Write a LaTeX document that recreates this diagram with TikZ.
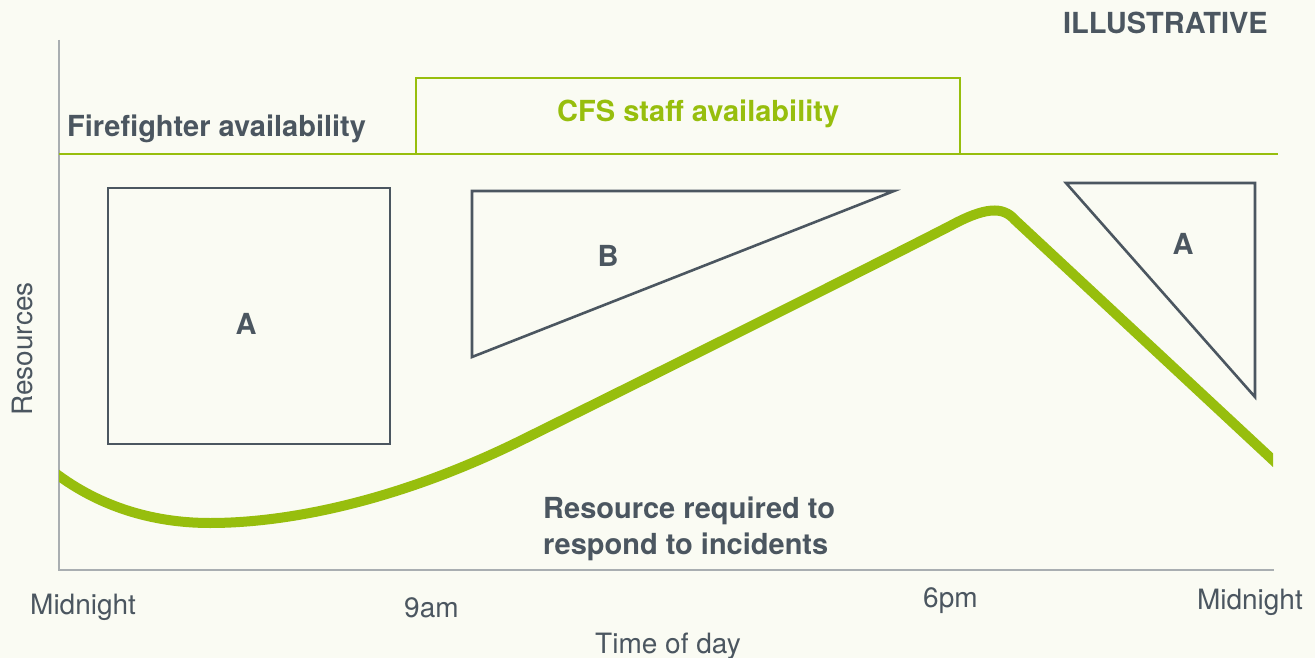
\documentclass[tikz,border=0pt]{standalone}
\usepackage{fontspec}
\setmainfont{TeX Gyre Heros}
\definecolor{bgcol}{HTML}{FAFBF3}
\definecolor{inkgrey}{HTML}{4B5660}
\definecolor{cfsgreen}{HTML}{97BE0D}
\definecolor{axisgrey}{HTML}{A9AEB1}
\begin{document}
\begin{tikzpicture}[x=1pt, y=-1pt,
  lbl/.style={inner sep=0pt, text=inkgrey, font=\fontsize{28}{36}\selectfont},
  blbl/.style={lbl, font=\fontsize{29}{36}\selectfont\bfseries},
  outline/.style={draw=inkgrey, line width=2.6pt, line join=miter}]
  \fill[bgcol] (0,0) rectangle (1315,658);
  \useasboundingbox (0,0) rectangle (1315,658);

  % axes
  \coordinate (top) at (59,40);
  \coordinate (origin) at (59,570);
  \coordinate (right) at (1274,570);
  \draw[axisgrey, line width=1.8pt] (top) -- (origin) -- (right);

  % availability
  \draw[cfsgreen, line width=2.6pt] (59,154) -- (1278,154);
  \draw[cfsgreen, line width=2.6pt] (416,154) -- (416,78) -- (960,78) -- (960,154);

  % gaps
  \draw[outline] (108,188) rectangle (390,444);
  \draw[outline] (472,191) -- (894,191) -- (472,357) -- cycle;
  \draw[outline] (1066,183) -- (1255,183) -- (1255,397) -- cycle;

  % demand
  \begin{scope}
    \clip (59,0) rectangle (1273,658);
    \draw[cfsgreen, line width=10pt, line join=round]
      (50,469) .. controls (95,505) and (150,523) .. (210,523)
      .. controls (290,523) and (400,500) .. (520,441)
      .. controls (700,352) and (880,262) .. (950,226)
      .. controls (985,207) and (1003,206) .. (1015,220) -- (1290,476);
  \end{scope}

  \node[blbl, anchor=base east] (illus) at (1268,34) {ILLUSTRATIVE};
  \node[blbl, anchor=base west] (ff) at (67,137) {Firefighter availability};
  \node[blbl, anchor=base west, text=cfsgreen] (cfs) at (557,122) {CFS staff availability};
  \node[blbl, anchor=base] (a1) at (246,334) {A};
  \node[blbl, anchor=base] (b) at (608,266) {B};
  \node[blbl, anchor=base] (a2) at (1183,254) {A};
  \node[blbl, anchor=north west, align=left] (req) at (543,497)
    {Resource required to\\respond to incidents};

  \node[lbl, anchor=base west] (m1) at (30,614) {Midnight};
  \node[lbl, anchor=base west] (nine) at (404,617) {9am};
  \node[lbl, anchor=base west] (six) at (923,607) {6pm};
  \node[lbl, anchor=base east] (m2) at (1303,609) {Midnight};
  \node[lbl, anchor=base west] (tod) at (595,653) {Time of day};
  \node[lbl, anchor=base, rotate=90] (res) at (32,349) {Resources};
\end{tikzpicture}
\end{document}
